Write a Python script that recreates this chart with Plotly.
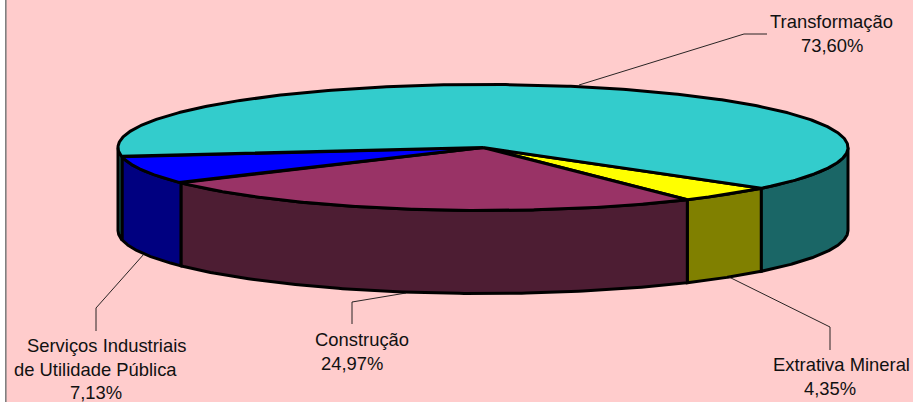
import numpy as np
import plotly.graph_objects as go

# Data: label text as printed; drawn shares are what the pie shows
categories = ["Extrativa Mineral", "Construção", "Serviços Industriais de Utilidade Pública", "Transformação"]
printed_values = [4.35, 24.97, 7.13, 73.60]
drawn_shares = [4.35, 24.97, 7.13, 63.55]
top_colors = ["#FFFF00", "#993366", "#0000FF", "#33CCCC"]
side_colors = ["#808000", "#4D1D33", "#000080", "#1A6666"]

# Geometry of the drawing
CX, CY, RX, RY, DEPTH = 483.0, 147.5, 365.0, 63.0, 83.0
START_DEG = 40.3
W, H = 913, 402
PINK = "#FFCCCC"
OUT = "#000000"


def pt(deg):
    t = np.radians(deg)
    return CX + RX * np.cos(t), CY + RY * np.sin(t)


fig = go.Figure()

edges = START_DEG + np.concatenate([[0], np.cumsum(drawn_shares)]) * 3.6


def add_poly(xs, ys, fill, width=3.0):
    fig.add_trace(go.Scatter(x=xs, y=ys, mode="lines", fill="toself", fillcolor=fill,
                             line=dict(color=OUT, width=width), hoverinfo="skip", showlegend=False))


# sides: visible for angles 0..180 only
for i in range(4):
    a0, a1 = edges[i], edges[i + 1]
    ranges = []
    if a0 < 180:
        ranges.append((a0, min(a1, 180)))
    if a1 > 360:
        ranges.append((360, a1))
    for lo, hi in ranges:
        ts = np.linspace(lo, hi, 120)
        x, y = pt(ts)
        add_poly(np.concatenate([x, x[::-1], x[:1]]),
                 np.concatenate([y, y[::-1] + DEPTH, y[:1]]), side_colors[i])

# tops
for i in range(4):
    ts = np.linspace(edges[i], edges[i + 1], 400)
    x, y = pt(ts)
    add_poly(np.concatenate([[CX], x, [CX]]), np.concatenate([[CY], y, [CY]]), top_colors[i])

# leader lines
leaders = [
    ([579, 744, 767], [85, 34, 34]),
    ([729, 830, 830], [277, 327, 350]),
    ([406, 352, 352], [293, 302, 324]),
    ([144, 96, 96], [254, 308, 331]),
]
for lx, ly in leaders:
    fig.add_trace(go.Scatter(x=lx, y=ly, mode="lines", line=dict(color="#111111", width=0.9),
                             hoverinfo="skip", showlegend=False))


def fmt(v):
    return f"{v:.2f}%".replace(".", ",")


FONT = dict(family="Liberation Sans, Arial, sans-serif", size=18.4, color="#111111")
texts = [
    ("Transformação", 831.5, 21.5), (fmt(printed_values[3]), 832, 45.5),
    ("Extrativa Mineral", 841, 364.5), (fmt(printed_values[0]), 830, 388.5),
    ("Construção", 362, 339.5), (fmt(printed_values[1]), 352, 363.5),
    ("Serviços Industriais", 106, 345.5), ("de Utilidade Pública", 95, 369.5), (fmt(printed_values[2]), 95.5, 392.5),
]
for t, x, y in texts:
    fig.add_annotation(x=x, y=y, text=t, showarrow=False, font=FONT, xanchor="center", yanchor="middle")

fig.update_layout(
    width=W, height=H, margin=dict(l=0, r=0, t=0, b=0), paper_bgcolor="#FFFFFF", plot_bgcolor=PINK,
    showlegend=False,
    xaxis=dict(range=[0, W], visible=False, fixedrange=True),
    yaxis=dict(range=[H, 0], visible=False, fixedrange=True),
    shapes=[
        dict(type="rect", x0=0, x1=W, y0=0, y1=H, fillcolor=PINK, line_width=0, layer="below"),
        dict(type="rect", x0=0, x1=5, y0=0, y1=H, fillcolor="#FFFFFF", line_width=0, layer="below"),
        dict(type="line", x0=5.8, x1=5.8, y0=0, y1=H, line=dict(color="#808080", width=1.6), layer="below"),
    ],
)
fig.write_html("out.html", config={"displayModeBar": False},
               post_script="document.body.style.margin='0';document.documentElement.style.overflow='hidden';")
